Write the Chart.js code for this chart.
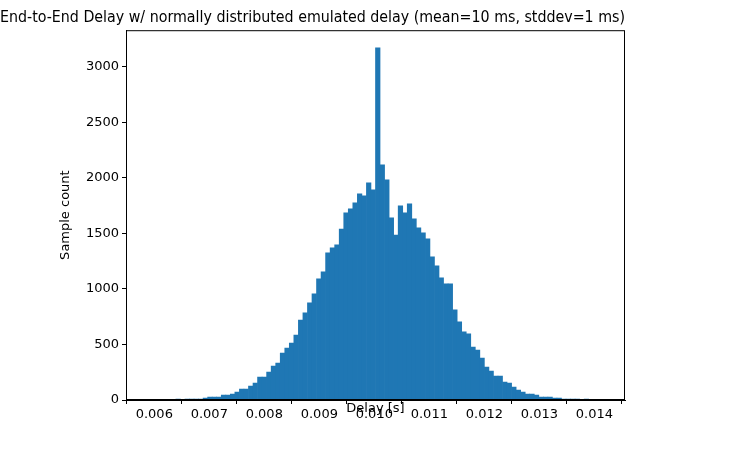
<!DOCTYPE html>
<html>
<head>
<meta charset="utf-8">
<script src="https://cdn.jsdelivr.net/npm/chart.js@4.4.1/dist/chart.umd.min.js"></script>
<style>
  html, body { margin: 0; padding: 0; background: #fff; }
  #wrap { width: 752px; height: 453px; }
</style>
</head>
<body>
<div id="wrap"><canvas id="chart"></canvas></div>
<script>
const binStart = 0.005898;
const binWidth = 0.00008247;
const sampleCounts = [
  1, 0, 0, 0, 0, 0, 9, 2, 9, 9,
  9, 9, 18, 27, 27, 27, 45, 45, 54, 72,
  99, 99, 126, 153, 207, 207, 252, 306, 333, 423,
  468, 513, 585, 720, 784, 874, 955, 1090, 1153, 1324,
  1369, 1396, 1540, 1685, 1721, 1775, 1856, 1838, 1955, 1892,
  3171, 2117, 1982, 1640, 1486, 1748, 1685, 1766, 1631, 1550,
  1505, 1450, 1288, 1207, 1099, 1045, 1045, 811, 703, 613,
  595, 477, 450, 378, 297, 261, 216, 216, 162, 153,
  117, 90, 72, 54, 54, 45, 27, 27, 27, 18,
  18, 9, 9, 9, 9, 0, 9, 0, 0, 1
];
const xTicks = [0.006, 0.007, 0.008, 0.009, 0.010, 0.011, 0.012, 0.013, 0.014];
const yTicks = [0, 500, 1000, 1500, 2000, 2500, 3000];

const points = sampleCounts.map((y, i) => ({ x: binStart + (i + 0.5) * binWidth, y }));
const dataSpan = binWidth * sampleCounts.length;

const frame = {
  id: 'frame',
  afterDraw(chart) {
    const { ctx, chartArea: a } = chart;
    ctx.save();
    ctx.strokeStyle = '#000';
    ctx.lineWidth = 1;
    ctx.strokeRect(a.left + 0.5, a.top + 0.5, a.right - a.left - 1, a.bottom - a.top - 1);
    ctx.restore();
  }
};

const axisGrid = { display: true, drawOnChartArea: false, drawTicks: true, tickLength: 4, color: '#000' };

new Chart(document.getElementById('chart'), {
  type: 'bar',
  data: {
    datasets: [{
      data: points,
      backgroundColor: '#1f77b4',
      barPercentage: 1,
      categoryPercentage: 1,
      borderWidth: 0
    }]
  },
  options: {
    responsive: true,
    maintainAspectRatio: false,
    animation: false,
    layout: { padding: { right: 127, top: 0 } },
    plugins: {
      legend: { display: false },
      tooltip: { enabled: false },
      title: {
        display: true,
        text: 'End-to-End Delay w/ normally distributed emulated delay (mean=10 ms, stddev=1 ms)',
        color: '#000',
        font: { family: 'DejaVu Sans', size: 16, weight: 'normal' },
        padding: { top: 8, bottom: 3 }
      }
    },
    scales: {
      x: {
        type: 'linear',
        offset: false,
        min: binStart - dataSpan * 0.05,
        max: binStart + dataSpan * 1.05,
        afterBuildTicks(axis) { axis.ticks = xTicks.map(v => ({ value: v })); },
        ticks: {
          color: '#000',
          font: { family: 'DejaVu Sans', size: 13 },
          maxRotation: 0,
          callback: v => v.toFixed(3)
        },
        grid: axisGrid,
        border: { display: true, color: '#000' },
        title: { display: true, text: 'Delay [s]', color: '#000', font: { family: 'DejaVu Sans', size: 13 }, padding: { top: 0, bottom: 37 } },
        afterFit(axis) { axis.height = 53; }
      },
      y: {
        min: 0,
        max: 3171 * 1.05,
        afterBuildTicks(axis) { axis.ticks = yTicks.map(v => ({ value: v })); },
        ticks: { color: '#000', font: { family: 'DejaVu Sans', size: 13 }, callback: v => String(v) },
        grid: axisGrid,
        border: { display: true, color: '#000' },
        title: { display: true, text: 'Sample count', color: '#000', font: { family: 'DejaVu Sans', size: 13 }, padding: { top: 58, bottom: 0 } },
        afterFit(axis) { axis.width = 126; }
      }
    }
  },
  plugins: [frame]
});
</script>
</body>
</html>
